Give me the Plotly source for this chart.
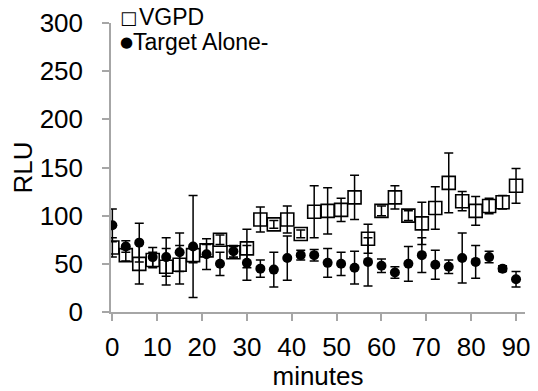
import plotly.graph_objects as go

minutes = [0, 3, 6, 9, 12, 15, 18, 21, 24, 27, 30, 33, 36, 39, 42, 45, 48, 51, 54, 57,
           60, 63, 66, 69, 72, 75, 78, 81, 84, 87, 90]

vgpd = [67, 59, 50, 54, 47, 49, 59, 64, 75, 62, 66, 96, 91, 96, 81, 104, 105, 106, 119, 76,
        105, 119, 100, 92, 108, 134, 115, 105, 110, 114, 131]
vgpd_err = [10, 6, 21, 8, 19, 20, 8, 6, 5, 6, 20, 13, 4, 14, 4, 27, 24, 12, 23, 15,
            5, 12, 5, 22, 22, 31, 10, 15, 8, 7, 18]

target = [90, 68, 72, 57, 57, 62, 68, 60, 50, 63, 51, 45, 44, 56, 59, 59, 51, 50, 46, 52,
          48, 41, 50, 59, 49, 47, 56, 52, 57, 45, 34]
target_err = [17, 6, 20, 10, 20, 20, 53, 16, 12, 6, 18, 9, 18, 23, 5, 6, 15, 12, 17, 25,
              7, 6, 18, 18, 15, 7, 26, 17, 6, 3, 8]

series_names = ["VGPD", "Target Alone-"]
legend_symbols = ["\u25a1", "\u25cf"]

FONT = "Arial, Liberation Sans, sans-serif"
AXIS_GRAY = "#a6a6a6"

fig = go.Figure()
fig.add_trace(go.Scatter(
    x=minutes, y=vgpd, mode="markers", name=series_names[0],
    marker=dict(symbol="square-open", size=13, color="black", line=dict(width=1.6, color="black")),
    error_y=dict(type="data", array=vgpd_err, visible=True, color="black", thickness=1.5, width=4.5),
    showlegend=False,
))
fig.add_trace(go.Scatter(
    x=minutes, y=target, mode="markers", name=series_names[1],
    marker=dict(symbol="circle", size=10, color="black"),
    error_y=dict(type="data", array=target_err, visible=True, color="black", thickness=1.5, width=4.5),
    showlegend=False,
))

# legend drawn as text: symbol glyphs and labels
legend_rows = [(legend_symbols[0], series_names[0], 17, 26, 6, 18),
               (legend_symbols[1], series_names[1], 15, 20, -19, 15)]
for sym, label, sx, lx, ys, symsize in legend_rows:
    fig.add_annotation(x=0, y=1.0, xref="paper", yref="paper", xanchor="center", yanchor="middle",
                       text=sym, showarrow=False, xshift=sx, yshift=ys,
                       font=dict(family="DejaVu Sans", size=symsize, color="black"))
    fig.add_annotation(x=0, y=1.0, xref="paper", yref="paper", xanchor="left", yanchor="middle",
                       text=label, showarrow=False, xshift=lx, yshift=ys,
                       font=dict(family=FONT, size=23, color="black"))

fig.update_layout(
    width=538, height=391,
    margin=dict(l=111, r=8, t=23, b=79),
    paper_bgcolor="white", plot_bgcolor="white",
    font=dict(family=FONT, size=26, color="black"),
    xaxis=dict(
        range=[-0.3, 92], tickmode="array", tickvals=list(range(0, 91, 10)),
        showgrid=False, zeroline=False, showline=True, linecolor=AXIS_GRAY, linewidth=1.5,
        ticks="outside", ticklen=7, tickcolor=AXIS_GRAY, tickwidth=1.5,
        ticklabelstandoff=4,
        title=dict(text="minutes", font=dict(size=26), standoff=0),
    ),
    yaxis=dict(
        range=[0, 300], tickmode="array", tickvals=list(range(0, 301, 50)),
        showgrid=False, zeroline=False, showline=True, linecolor=AXIS_GRAY, linewidth=1.5,
        ticks="outside", ticklen=7, tickcolor=AXIS_GRAY, tickwidth=1.5,
        ticklabelstandoff=14,
        title=dict(text="RLU", font=dict(size=26), standoff=0),
    ),
)

fig.write_html("out.html")
